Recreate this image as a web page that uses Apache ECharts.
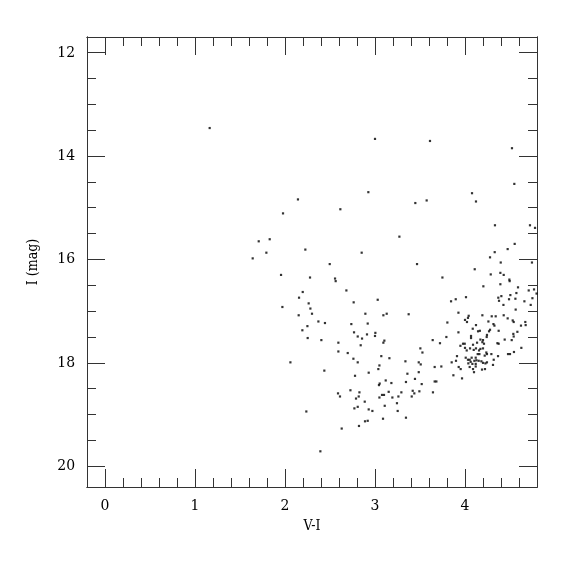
<!DOCTYPE html>
<html><head><meta charset="utf-8">
<script src="https://cdn.jsdelivr.net/npm/echarts@6/dist/echarts.min.js"></script>
<style>html,body{margin:0;padding:0;background:#fff}#c{width:575px;height:575px}</style>
</head><body><div id="c"></div>
<script>
const xMajor = [0, 1, 2, 3, 4];
const xMinor = [0, 0.2, 0.4, 0.6, 0.8, 1, 1.2, 1.4, 1.6, 1.8, 2, 2.2, 2.4, 2.6, 2.8, 3, 3.2, 3.4, 3.6, 3.8, 4, 4.2, 4.4, 4.6];
const yMajor = [12, 14, 16, 18, 20];
const yMinor = [12, 12.5, 13, 13.5, 14, 14.5, 15, 15.5, 16, 16.5, 17, 17.5, 18, 18.5, 19, 19.5, 20];

// V-I colour of each star
const vi = [
 1.163,3.0,3.611,4.522,4.548,2.926,4.078,4.122,2.144,3.574,3.448,1.978,2.615,
 1.708,1.83,1.793,1.641,2.226,2.852,2.497,1.956,2.278,2.556,2.563,2.682,2.197,2.156,2.763,3.03,1.971,2.263,2.282,2.3,2.152,2.893,3.093,3.13,2.371,2.444,2.249,2.193,2.737,2.919,2.767,2.808,2.856,2.911,3.004,3.0,2.252,2.404,3.104,3.093,2.593,2.841,2.593,2.697,2.76,3.07,
 2.808,2.06,3.049,3.037,2.437,2.93,2.778,3.119,3.052,3.044,2.727,2.827,3.152,2.589,2.611,2.819,2.789,3.078,3.1,3.049,2.886,3.108,2.808,2.771,2.93,2.971,2.237,3.089,2.919,2.889,2.822,2.63,2.393,3.16,
 4.333,4.722,4.778,3.271,4.552,4.474,4.33,4.278,4.397,4.744,3.467,4.108,4.286,4.393,4.43,4.493,4.496,3.749,4.204,4.393,4.589,4.708,4.767,4.795,4.571,4.504,4.56,4.37,4.378,4.404,4.489,4.427,4.66,4.749,4.73,4.563,3.845,3.897,4.011,3.927,3.374,4.193,4.297,4.341,4.43,4.474,4.041,4.033,
 3.804,4.0,4.022,4.122,4.26,4.316,4.327,4.53,4.541,4.622,4.67,4.674,4.086,4.145,4.165,4.278,4.267,4.374,3.927,3.793,4.244,4.241,4.067,4.067,4.582,4.537,4.541,4.519,4.441,4.36,4.374,4.171,4.2,4.193,4.134,4.211,4.089,3.978,3.997,3.949,3.641,3.722,3.504,3.527,4.626,4.0,4.019,4.056,4.097,4.122,4.156,4.171,4.2,4.141,4.16,4.237,4.244,4.219,4.293,4.319,4.367,4.478,4.5,4.544,3.911,4.008,4.033,4.074,4.119,4.052,4.063,4.104,4.127,4.152,4.182,4.2,4.227,4.244,3.852,3.9,4.037,4.082,4.119,3.93,3.952,4.052,4.089,4.119,4.189,4.222,4.1,3.871,3.967,4.311,3.663,3.737,3.486,3.508,3.338,3.36,3.182,3.344,3.444,3.519,3.486,3.663,3.682,3.644,3.193,3.26,3.293,3.408,3.419,3.437,3.493,3.244,3.252,3.344
];
// I magnitude of each star
const imag = [
 13.46,13.67,13.71,13.85,14.54,14.70,14.72,14.88,14.84,14.86,14.91,15.11,15.03,
 15.65,15.61,15.87,15.98,15.81,15.87,16.09,16.30,16.35,16.37,16.42,16.60,16.63,16.74,16.83,16.78,16.92,16.85,16.95,17.05,17.08,17.05,17.08,17.05,17.20,17.23,17.29,17.37,17.25,17.24,17.41,17.49,17.53,17.45,17.42,17.48,17.52,17.56,17.57,17.61,17.61,17.66,17.78,17.81,17.92,17.87,
 17.99,17.99,18.05,18.12,18.15,18.19,18.25,18.34,18.40,18.43,18.53,18.57,18.56,18.59,18.65,18.65,18.69,18.62,18.62,18.67,18.75,18.83,18.85,18.88,18.90,18.93,18.94,19.08,19.12,19.13,19.22,19.27,19.71,17.91,
 15.34,15.34,15.39,15.56,15.70,15.80,15.86,15.96,16.06,16.06,16.09,16.19,16.29,16.26,16.30,16.39,16.42,16.35,16.52,16.48,16.54,16.60,16.58,16.66,16.65,16.69,16.76,16.74,16.80,16.71,16.77,16.88,16.81,16.75,16.88,16.97,16.81,16.77,16.73,17.03,17.06,17.08,17.10,17.10,17.08,17.14,17.09,17.13,
 17.22,17.17,17.21,17.27,17.20,17.25,17.28,17.18,17.21,17.28,17.21,17.27,17.34,17.39,17.38,17.36,17.39,17.38,17.41,17.50,17.46,17.50,17.48,17.52,17.40,17.44,17.49,17.56,17.55,17.62,17.63,17.55,17.56,17.60,17.61,17.63,17.65,17.63,17.63,17.67,17.56,17.62,17.72,17.80,17.71,17.71,17.76,17.72,17.75,17.72,17.76,17.73,17.72,17.83,17.83,17.80,17.83,17.86,17.83,17.94,17.87,17.83,17.83,17.79,17.87,17.90,17.94,17.90,17.90,17.94,17.98,17.96,17.95,17.96,17.97,18.00,18.01,17.99,17.99,17.96,18.01,18.02,18.02,18.08,18.12,18.08,18.12,18.07,18.13,18.12,18.18,18.24,18.30,18.04,18.08,18.07,17.99,18.03,17.97,18.21,18.39,18.37,18.31,18.41,18.18,18.36,18.36,18.57,18.67,18.65,18.57,18.65,18.54,18.59,18.55,18.78,18.93,19.06
];

const pts = vi.map((v, i) => [v, imag[i]]);
const ink = '#333';
const serif = "'DejaVu Serif Condensed', 'DejaVu Serif', serif";
const xMin = -0.2, xMax = 4.8, yMin = 11.7, yMax = 20.4;

function xa(pos, vals, len, labels, extra) {
  return Object.assign({
    type: 'value', min: xMin, max: xMax, position: pos,
    axisLine: { show: true, onZero: false, lineStyle: { color: ink, width: 1 } },
    axisTick: { show: true, inside: true, length: len, customValues: vals, lineStyle: { color: ink, width: 1 } },
    axisLabel: labels ? { show: true, customValues: vals, margin: 11, color: '#000', fontFamily: serif, fontSize: 15.5 } : { show: false },
    splitLine: { show: false }
  }, extra || {});
}
function ya(pos, vals, len, labels, extra) {
  return Object.assign({
    type: 'value', min: yMin, max: yMax, inverse: true, position: pos,
    axisLine: { show: true, onZero: false, lineStyle: { color: ink, width: 1 } },
    axisTick: { show: true, inside: true, length: len, customValues: vals, lineStyle: { color: ink, width: 1 } },
    axisLabel: labels ? { show: true, customValues: vals, margin: 12, color: '#000', fontFamily: serif, fontSize: 15.5 } : { show: false },
    splitLine: { show: false }
  }, extra || {});
}

const chart = echarts.init(document.getElementById('c'), null, { renderer: 'canvas' });
chart.setOption({
  animation: false,
  backgroundColor: '#fff',
  grid: { left: 87, right: 38, top: 37, bottom: 88, containLabel: false, outerBoundsMode: 'none' },
  xAxis: [
    xa('bottom', xMajor, 18, true, { name: 'V-I', nameLocation: 'middle', nameGap: 31, nameTextStyle: { fontFamily: serif, fontSize: 14, color: '#000' } }),
    xa('bottom', xMinor, 9, false),
    xa('top', xMajor, 18, false),
    xa('top', xMinor, 9, false)
  ],
  yAxis: [
    ya('left', yMajor, 18, true, { name: 'I (mag)', nameLocation: 'middle', nameGap: 47, nameRotate: 90, nameTextStyle: { fontFamily: serif, fontSize: 14, color: '#000' } }),
    ya('left', yMinor, 9, false),
    ya('right', yMajor, 18, false),
    ya('right', yMinor, 9, false)
  ],
  series: [{
    type: 'scatter', xAxisIndex: 0, yAxisIndex: 0,
    data: pts, symbol: 'rect', symbolSize: 2.2,
    itemStyle: { color: '#000' }
  }]
});
</script>
</body></html>
